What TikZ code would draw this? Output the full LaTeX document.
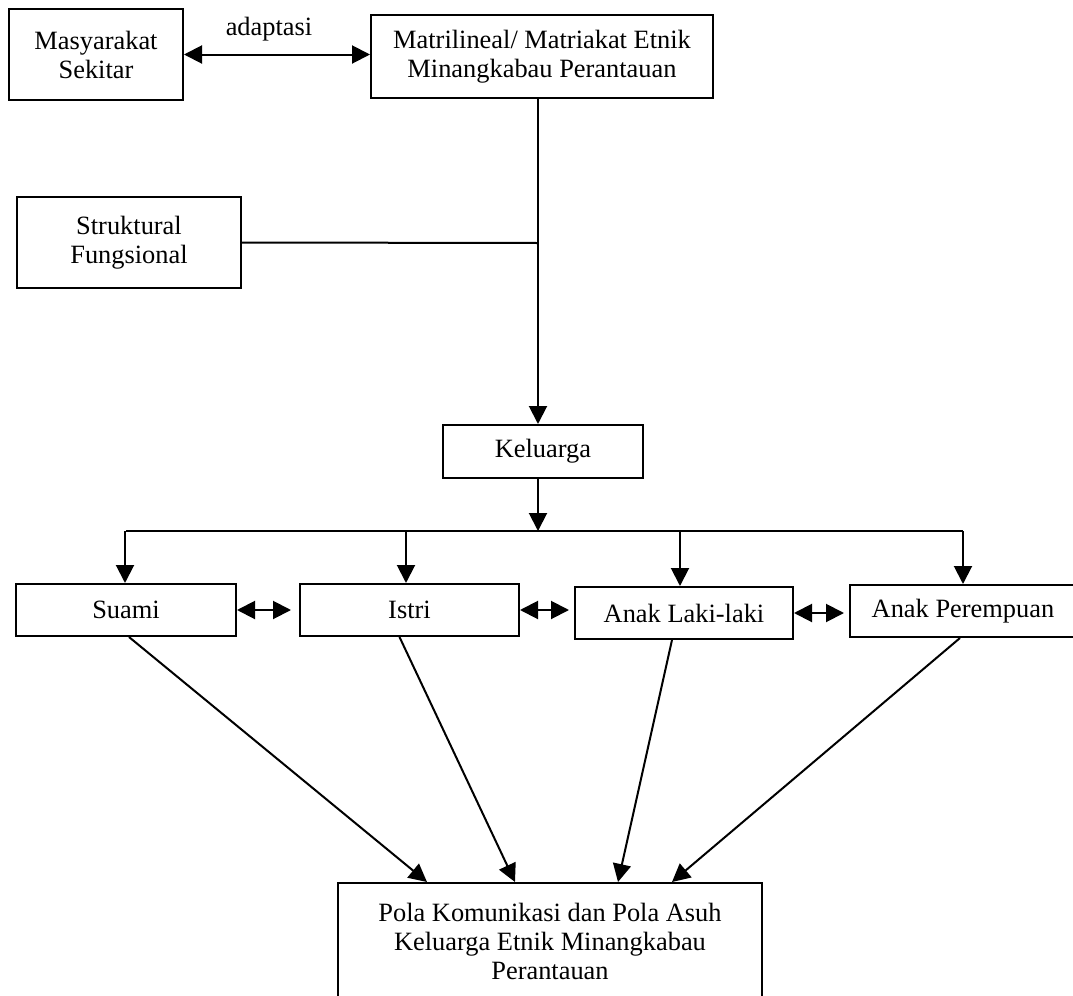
\documentclass[tikz,border=0pt]{standalone}
\usepackage{fontspec}
\setmainfont{Liberation Serif}
\usepackage{tikz}
\usetikzlibrary{arrows.meta, positioning, calc}
\tikzset{
	blok/.style   ={rectangle, draw=black, line width=1pt, align=center, inner sep=2pt},
	sig/.style    ={-{Triangle[length=9pt, width=9pt]}, line width=1pt},
	biarrow/.style={{Triangle[length=9pt, width=9pt]}-{Triangle[length=9pt, width=9pt]}, line width=1pt},
	plain/.style  ={line width=1pt},
}

\begin{document}
\begin{tikzpicture}[x=0.5pt, y=-0.5pt, font=\fontsize{13.2}{14.5}\selectfont]
	\useasboundingbox (0,0) rectangle (1073,996);
	\clip (0,0) rectangle (1073,996);
	% top row
	\node[blok, minimum width=87pt, minimum height=45.5pt] (masy) at (96,54.5) {Masyarakat\\Sekitar};
	\node[blok, minimum width=171pt, minimum height=41.5pt] (matri) at (542,56.5) {Matrilineal/ Matriakat Etnik\\Minangkabau Perantauan};
	\node[blok, minimum width=112pt, minimum height=45.5pt] (struk) at (129,242.5) {Struktural\\Fungsional};
	\node[blok, minimum width=100pt, minimum height=26.5pt] (kel) at (543,451.5) {Keluarga};
	% family members
	\node[blok, minimum width=110pt, minimum height=26pt] (suami) at (126,610) {Suami};
	\node[blok, minimum width=109.5pt, minimum height=26pt] (istri) at (409.5,610) {Istri};
	\node[blok, minimum width=109pt, minimum height=26pt] (laki) at (684,613) {Anak Laki-laki};
	\node[blok, minimum width=113pt, minimum height=26pt] (puan) at (963,611) {Anak Perempuan};
	\node[blok, minimum width=212pt, minimum height=58pt] (pola) at (550,941) {Pola Komunikasi dan Pola Asuh\\Keluarga Etnik Minangkabau\\Perantauan};
	\coordinate (junc) at (538,243);
	\coordinate (split) at (538,531);

	\draw[biarrow] (masy.east) -- node[above=3pt, xshift=-4pt] {adaptasi} (matri.west |- masy.east);
	\draw[sig] (matri.south -| junc) -- (kel.north -| junc);
	\draw[plain] (struk.east) -- (junc);
	\draw[sig] (kel.south -| split) -- (split);
	\draw[plain] (suami.north |- split) -- (puan.north |- split);
	\foreach \m/\dx in {suami/-1, istri/-3.5, laki/-4, puan/0}
		\draw[sig] ($(\m.north |- split)+(\dx,0)$) -- ($(\m.north)+(\dx,0)$);
	% links between members
	\draw[biarrow, shorten >=4pt] (suami.east) -- (istri.west);
	\draw[biarrow, shorten >=2.5pt] (istri.east) -- (laki.west |- istri.east);
	\draw[biarrow, shorten >=2.5pt] (laki.east) -- (puan.west |- laki.east);
	% to the outcome
	\draw[sig] ($(suami.south)+(3,0)$) -- ($(pola.north)+(-123,0)$);
	\draw[sig] ($(istri.south)+(-10,0)$) -- ($(pola.north)+(-35,0)$);
	\draw[sig] ($(laki.south)+(-12,0)$) -- ($(pola.north)+(68,0)$);
	\draw[sig] ($(puan.south)+(-3,0)$) -- ($(pola.north)+(122,0)$);
\end{tikzpicture}
\end{document}
